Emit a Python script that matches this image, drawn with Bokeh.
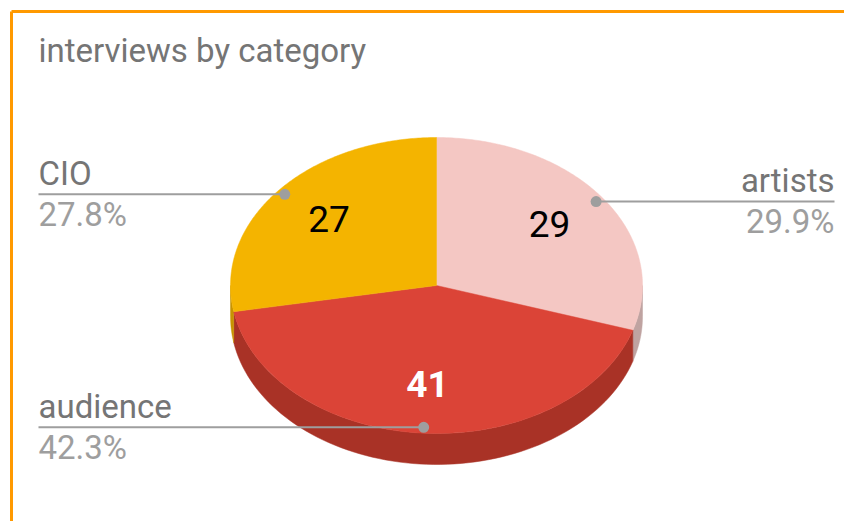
import numpy as np
from bokeh.plotting import figure
from bokeh.models import Range1d
from bokeh.core.properties import value
from bokeh.embed import file_html
from bokeh.resources import INLINE

# ---- data ----
title_text = "interviews by category"
categories = ["artists", "audience", "CIO"]
counts = [29, 41, 27]
top_colors = ["#F4C7C3", "#DB4437", "#F4B400"]
side_colors = ["#BFA3A1", "#A93226", "#C79300"]
value_colors = ["#000000", "#FFFFFF", "#000000"]
value_styles = ["normal", "bold", "normal"]

# ---- layout (pixels in picture coordinates) ----
W, H = 844, 521
cx, cy, rx, ry, depth = 436.0, 285.0, 206.0, 148.0, 31.0
FONT = value("Roboto")

p = figure(width=W, height=H, output_backend="svg", toolbar_location=None,
           x_range=Range1d(0, W), y_range=Range1d(H, 0),
           min_border=0, outline_line_color=None)
p.axis.visible = False
p.grid.visible = False
p.background_fill_color = "white"

total = float(sum(counts))
fracs = np.array(counts) / total
ends = np.cumsum(fracs) * 2 * np.pi
starts = ends - fracs * 2 * np.pi


def pt(theta, f=1.0, dz=0.0):
    # theta measured clockwise from 12 o'clock
    return cx + f * rx * np.sin(theta), cy - f * ry * np.cos(theta) + dz


# side walls (front half: theta in [pi/2, 3pi/2])
for s, e, c in zip(starts, ends, side_colors):
    a = max(s, np.pi / 2)
    b = min(e, 3 * np.pi / 2)
    if b <= a:
        continue
    th = np.linspace(a, b, 80)
    xt, yt = pt(th)
    xb, yb = pt(th[::-1], dz=depth)
    p.patch(np.concatenate([xt, xb]), np.concatenate([yt, yb]),
            fill_color=c, line_color=c, line_width=0.5)

# top faces
for s, e, c in zip(starts, ends, top_colors):
    th = np.linspace(s, e, 160)
    xs, ys = pt(th)
    p.patch(np.concatenate([[cx], xs]), np.concatenate([[cy], ys]),
            fill_color=c, line_color=c, line_width=0.5)

# values on slices
mids = (starts + ends) / 2
vx, vy = pt(mids, f=0.68)
for x, y, t, col, st in zip(vx, vy, counts, value_colors, value_styles):
    p.text(x=[x], y=[y - 2], text=[str(t)], text_font=FONT, text_font_size="37px",
           text_color=col, text_align="center", text_baseline="middle",
           text_font_style=st)

# leader lines and labels
dx, dy = pt(mids, f=0.96)
left_x, right_x = 38, 834
for x, y, m, name, fr in zip(dx, dy, mids, categories, fracs):
    on_right = np.sin(m) > 0
    ex = right_x if on_right else left_x
    align = "right" if on_right else "left"
    p.segment(x0=[x], y0=[y], x1=[ex], y1=[y], line_color="#9E9E9E", line_width=2)
    p.scatter(x=[x], y=[y], size=11, fill_color="#9E9E9E", line_color=None)
    p.text(x=[ex], y=[y - 21], text=[name], text_font=FONT, text_font_size="33px",
           text_color="#757575", text_align=align, text_baseline="alphabetic")
    p.text(x=[ex], y=[y + 20], text=["%.1f%%" % (fr * 100)], text_font=FONT,
           text_font_size="33px", text_color="#9E9E9E", text_align=align,
           text_baseline="alphabetic")

# title
p.text(x=[38], y=[50], text=[title_text], text_font=FONT, text_font_size="33px",
       text_color="#757575", text_align="left", text_baseline="alphabetic")

# orange frame (top and left edges visible)
p.segment(x0=[11, 11], y0=[11, 11], x1=[W, 11], y1=[11, H],
          line_color="#FF9900", line_width=3)

open("out.html", "w").write(file_html(p, INLINE))
